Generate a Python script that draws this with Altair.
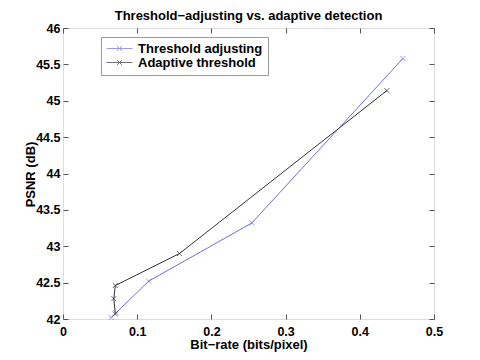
import altair as alt
import pandas as pd

# Data
series_names = ["Threshold adjusting", "Adaptive threshold"]
ta_x = [0.065, 0.0715, 0.1155, 0.2545, 0.458]
ta_y = [42.02, 42.085, 42.52, 43.32, 45.58]
at_x = [0.0705, 0.0685, 0.0705, 0.157, 0.4365]
at_y = [42.07, 42.28, 42.46, 42.90, 45.14]
x_ticks = [0, 0.1, 0.2, 0.3, 0.4, 0.5]
y_ticks = [42, 42.5, 43, 43.5, 44, 44.5, 45, 45.5, 46]
colors = ["#6f6fe0", "#333333"]

rows = []
for i, (a, b) in enumerate(zip(ta_x, ta_y)):
    rows.append({"x": a, "y": b, "s": series_names[0], "i": i})
for i, (a, b) in enumerate(zip(at_x, at_y)):
    rows.append({"x": a, "y": b, "s": series_names[1], "i": i})
df = pd.DataFrame(rows)

FONT = "Liberation Sans"
xs = alt.Scale(domain=[0, 0.5], nice=False, zero=False)
ys = alt.Scale(domain=[42, 46], nice=False, zero=False)

x_enc = alt.X("x:Q", scale=xs, axis=alt.Axis(
    values=x_ticks, format="~g", title="Bit\u2212rate (bits/pixel)", grid=False, domain=False,
    offset=-5, tickSize=5, tickColor="#555555", labelPadding=6,
    labelFont=FONT, labelFontSize=12.5, labelFontWeight="bold", labelColor="black",
    titleFont=FONT, titleFontSize=13, titleFontWeight="bold", titleColor="black",
    titlePadding=1, labelFlush=False, labelOverlap=False))
y_enc = alt.Y("y:Q", scale=ys, axis=alt.Axis(
    values=y_ticks, format="~g", title="PSNR (dB)", grid=False, domain=False,
    offset=-5, tickSize=5, tickColor="#555555", labelPadding=3,
    labelFont=FONT, labelFontSize=12.5, labelFontWeight="bold", labelColor="black",
    titleFont=FONT, titleFontSize=13, titleFontWeight="bold", titleColor="black",
    titleX=-38, titleY=146, titleBaseline="middle", titleAlign="center", titleAngle=270,
    labelFlush=False, labelOverlap=False))

color_enc = alt.Color("s:N", scale=alt.Scale(domain=series_names, range=colors),
    legend=alt.Legend(
        title=None, orient="none", legendX=38, legendY=9,
        fillColor="white", strokeColor="#999999", padding=5,
        symbolType="M-4.3,0H4.3M-0.8,-0.8L0.8,0.8M-0.8,0.8L0.8,-0.8",
        symbolSize=36, symbolStrokeWidth=1, symbolOffset=7,
        labelFont=FONT, labelFontSize=13, labelFontWeight="bold", labelColor="black",
        labelOffset=12, rowPadding=0))

base = alt.Chart(df)
lines = base.mark_line(strokeWidth=1).encode(x=x_enc, y=y_enc, color=color_enc, order="i:Q")
points = base.mark_point(shape="M-1,-1L1,1M-1,1L1,-1", filled=False, size=25,
                         strokeWidth=1).encode(x=x_enc, y=y_enc, color=color_enc)
inner = alt.layer(lines, points)

frame = base.mark_point(opacity=0).encode(
    x=alt.X("x:Q", scale=xs, axis=alt.Axis(orient="top", values=x_ticks, labels=False,
            domain=False, grid=False, offset=-5, tickSize=5, tickColor="#555555", title=None)),
    y=alt.Y("y:Q", scale=ys, axis=alt.Axis(orient="right", values=y_ticks, labels=False,
            domain=False, grid=False, offset=-5, tickSize=5, tickColor="#555555", title=None)))

chart = alt.layer(inner, frame).resolve_scale(x="independent", y="independent").properties(
    width=371, height=291,
    autosize=alt.AutoSizeParams(type="none"),
    padding={"left": 55, "top": 20, "right": 38, "bottom": 42},
    title=alt.TitleParams("Threshold\u2212adjusting vs. adaptive detection",
                          font=FONT, fontSize=13, fontWeight="bold", color="black",
                          anchor="middle", offset=-1),
).configure_view(stroke="#555555", strokeWidth=1).configure(background="white")

chart.save("out.html", embed_options={"renderer": "svg", "actions": False})
